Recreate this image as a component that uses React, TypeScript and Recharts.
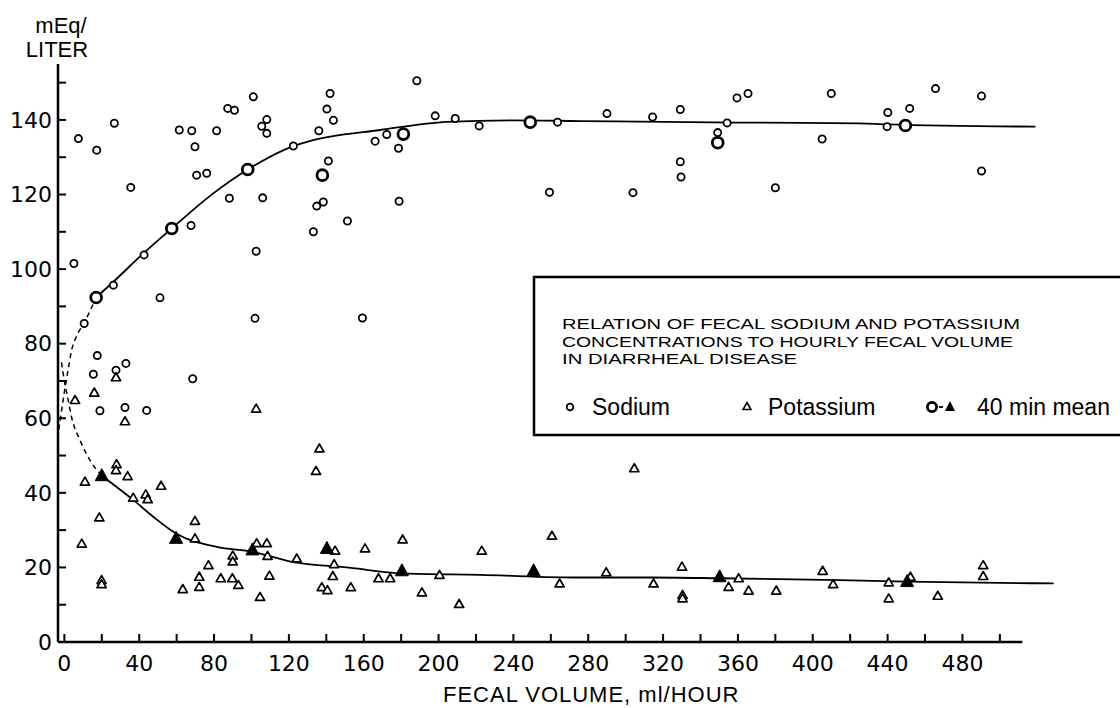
import React from "react";
import {
  ComposedChart,
  Scatter,
  Line,
  XAxis,
  YAxis,
  ReferenceLine,
} from "recharts";

// values: [fecal volume ml/hour, mEq/liter]
const sodium: [number, number][] = [
  [7.5, 135], [17.3, 131.9], [26.7, 139.1], [35.5, 121.9], [5.1, 101.5], [26.2, 95.7],
  [42.6, 103.8], [51.1, 92.3], [10.6, 85.4], [67.7, 111.7], [61.4, 137.3], [68.1, 137.1],
  [69.8, 132.8], [70.7, 125.2], [76.1, 125.7], [81.4, 137.1], [87.3, 143.1], [90.9, 142.6],
  [88.2, 119], [101, 146.2], [102.5, 104.8], [106, 119.1], [105.5, 138.3], [108.2, 140.1],
  [108.2, 136.4], [101.9, 86.8], [122.4, 133],
  [17.6, 76.8], [15.5, 71.8], [27.6, 72.9], [32.9, 74.7], [19, 62], [32.4, 62.9], [44, 62.1],
  [68.6, 70.6],
  [142, 147.1], [140.3, 142.9], [143.8, 139.9], [136, 137.1], [141.1, 129], [138.4, 118],
  [134.9, 116.9], [151.3, 112.9], [133.1, 110], [188.4, 150.5], [198.2, 141.1], [208.9, 140.4],
  [221.7, 138.4], [263.6, 139.4], [259.3, 120.6], [166.1, 134.3], [172.3, 136.1], [178.6, 132.4],
  [178.9, 118.2], [159.3, 86.9],
  [290, 141.7], [314.4, 140.8], [329.2, 142.8], [329.2, 128.8], [329.6, 124.7], [303.9, 120.5],
  [354.2, 139.2], [349.2, 136.6], [359.5, 145.9], [365.4, 147.1], [380, 121.8], [409.9, 147.1],
  [405, 134.9],
  [440.1, 142], [439.7, 138.2], [451.8, 143.1], [465.6, 148.4], [490.2, 146.4], [490.2, 126.3],
];

const sodiumMeans: [number, number][] = [
  [17, 92.4], [57.4, 110.9], [98, 126.7], [137.9, 125.2], [181.2, 136.2], [249, 139.4],
  [349.2, 133.9], [449.5, 138.5],
];

const potassium: [number, number][] = [
  [5.7, 64.9], [16, 66.9], [27.6, 71], [32.4, 59.2], [27.9, 47.7], [27.6, 46.1], [33.8, 44.5],
  [11, 43], [36.8, 38.7], [43.5, 39.6], [44.5, 38.3], [51.7, 41.9], [9.3, 26.4], [18.7, 33.4],
  [19.9, 16.6], [19.9, 15.5], [69.8, 32.5], [69.8, 27.8], [63.3, 14.2], [72.1, 17.5],
  [72.1, 14.8], [77, 20.6], [83.6, 17.1], [90, 23.2], [90, 21.6], [89.8, 17.1], [93, 15.3],
  [102.8, 26.5], [108.2, 26.5], [108.6, 23.1], [109.6, 17.8], [104.6, 12.1], [102.5, 62.6],
  [124.2, 22.4],
  [136.3, 51.9], [134.5, 45.9], [144.7, 24.5], [144.2, 20.9], [143.5, 17.7], [137.6, 14.7],
  [140.6, 13.9], [153.1, 14.7], [160.7, 25.1], [167.9, 17.1], [174.1, 17.1], [180.8, 27.5],
  [200.5, 18], [191.1, 13.3], [211, 10.2], [223.1, 24.5], [260.6, 28.5], [264.7, 15.7],
  [304.6, 46.6], [289.6, 18.7], [314.9, 15.7], [330.1, 20.2], [330.4, 12.6], [330.4, 11.7],
  [355, 14.8], [360.4, 17.1], [365.7, 13.8], [380.5, 13.8], [405.3, 19.1], [410.9, 15.5],
  [440.6, 16], [440.6, 11.7], [452.2, 17.5], [466.8, 12.4], [491.1, 20.6], [491.1, 17.7],
];

const potassiumMeans: [number, number][] = [
  [20, 44.6], [59.7, 27.8], [100.5, 24.7], [140.3, 25.1], [180.4, 19.1], [250.8, 19.1],
  [350.2, 17.5], [450.4, 16.2],
];

// hand-drawn curves
const sodiumCurve: [number, number][] = [
  [17, 92.4], [26.2, 96.6], [42.2, 104.2], [57.4, 110.9], [79.6, 120.3], [98, 126.7],
  [122.4, 133], [133, 134.6], [168.8, 137.3], [204.4, 139.5], [240, 139.9], [275.7, 139.7],
  [360, 139.3], [425, 139.1], [440, 138.8], [519, 138.2],
];
const sodiumDashed: [number, number][] = [
  [-3, 57], [-1.5, 62], [0, 67], [2, 73], [3.9, 78.3], [6.5, 82], [10.6, 85.6], [17, 92.4],
];
const potassiumCurve: [number, number][] = [
  [20, 44.6], [36.8, 38.1], [47.5, 33.6], [59.7, 29.1], [81.4, 25.5], [100.5, 24.2],
  [122.4, 21.4], [151, 20], [181.2, 18.4], [222, 18], [275.7, 17.3], [313, 17.3],
  [350.6, 17.1], [414.7, 16.6], [450.4, 16.2], [528.7, 15.7],
];
const potassiumDashed: [number, number][] = [
  [-1.5, 75], [0, 70], [2, 65], [4, 60], [8.3, 54.2], [14, 48.5], [20, 44.6],
];

const xTicks = [0, 20, 40, 60, 80, 100, 120, 140, 160, 180, 200, 220, 240, 260, 280, 300, 320, 340, 360, 380, 400, 420, 440, 460, 480, 500];
const yTicks = [0, 10, 20, 30, 40, 50, 60, 70, 80, 90, 100, 110, 120, 130, 140, 150];

const titleLines = [
  "RELATION OF FECAL SODIUM AND POTASSIUM",
  "CONCENTRATIONS TO HOURLY FECAL VOLUME",
  "IN DIARRHEAL DISEASE",
];
const titleWidths = [458, 451, 235];

const toPts = (arr: [number, number][]) => arr.map(([x, y]) => ({ x, y }));

const OpenCircle = (p: any) => (
  <circle cx={p.cx} cy={p.cy} r={3.6} fill="#fff" stroke="#000" strokeWidth={1.8} />
);
const MeanCircle = (p: any) => (
  <circle cx={p.cx} cy={p.cy} r={5.4} fill="#fff" stroke="#000" strokeWidth={2.8} />
);
const OpenTriangle = (p: any) => (
  <path
    d={`M${p.cx},${p.cy - 4.5}L${p.cx + 4.6},${p.cy + 3.5}L${p.cx - 4.6},${p.cy + 3.5}Z`}
    fill="#fff"
    stroke="#000"
    strokeWidth={1.7}
    strokeLinejoin="round"
  />
);
const MeanTriangle = (p: any) => (
  <path
    d={`M${p.cx},${p.cy - 7}L${p.cx + 6.5},${p.cy + 5}L${p.cx - 6.5},${p.cy + 5}Z`}
    fill="#000"
    stroke="#000"
    strokeWidth={1}
  />
);

const tickFont = { fontSize: 22, fill: "#000", fontFamily: "DejaVu Sans" };

export default function App() {
  return (
    <div style={{ position: "absolute", left: 0, top: 0, width: 1120, height: 708, background: "#fff", overflow: "hidden" }}>
      <ComposedChart
        width={1120}
        height={708}
        margin={{ top: 64, right: 64, left: 8, bottom: 26 }}
      >
        <XAxis
          type="number"
          dataKey="x"
          domain={[-3.4, 530]}
          ticks={xTicks}
          interval={0}
          allowDataOverflow
          tickFormatter={(v: number) => (v % 40 === 0 && v <= 480 ? String(v) : "")}
          tick={tickFont}
          axisLine={false}
          tickLine={{ stroke: "#000", strokeWidth: 2 }}
          tickSize={-8}
          tickMargin={21}
          height={40}
        />
        <YAxis
          type="number"
          dataKey="y"
          domain={[0, 155]}
          ticks={yTicks}
          interval={0}
          allowDataOverflow
          tickFormatter={(v: number) => (v % 20 === 0 ? String(v) : "")}
          tick={tickFont}
          axisLine={{ stroke: "#000", strokeWidth: 2.5 }}
          tickLine={{ stroke: "#000", strokeWidth: 2 }}
          tickSize={-8}
          tickMargin={14}
          width={50}
        />
        <ReferenceLine
          segment={[{ x: -3.4, y: 0 }, { x: 512, y: 0 }]}
          stroke="#000"
          strokeWidth={2.5}
        />
        <Line data={toPts(sodiumDashed)} dataKey="y" type="monotone" stroke="#000" strokeWidth={1.5} strokeDasharray="5 4" dot={false} isAnimationActive={false} />
        <Line data={toPts(potassiumDashed)} dataKey="y" type="monotone" stroke="#000" strokeWidth={1.5} strokeDasharray="5 4" dot={false} isAnimationActive={false} />
        <Line data={toPts(sodiumCurve)} dataKey="y" type="monotone" stroke="#000" strokeWidth={1.8} dot={false} isAnimationActive={false} />
        <Line data={toPts(potassiumCurve)} dataKey="y" type="monotone" stroke="#000" strokeWidth={1.8} dot={false} isAnimationActive={false} />
        <Scatter name="Sodium" data={toPts(sodium)} shape={OpenCircle} isAnimationActive={false} />
        <Scatter name="Potassium" data={toPts(potassium)} shape={OpenTriangle} isAnimationActive={false} />
        <Scatter name="Sodium mean" data={toPts(sodiumMeans)} shape={MeanCircle} isAnimationActive={false} />
        <Scatter name="Potassium mean" data={toPts(potassiumMeans)} shape={MeanTriangle} isAnimationActive={false} />
      </ComposedChart>

      <svg width={1120} height={708} style={{ position: "absolute", left: 0, top: 0, pointerEvents: "none" }}>
        {/* axis titles */}
        <text x={61} y={33} textAnchor="middle" fontFamily="Liberation Sans" fontSize={22}>mEq/</text>
        <text x={57} y={57} textAnchor="middle" fontFamily="Liberation Sans" fontSize={22}>LITER</text>
        <text x={443} y={702} fontFamily="Liberation Sans" fontSize={22} letterSpacing={1}>FECAL VOLUME, ml/HOUR</text>

        {/* legend box */}
        <rect x={534} y={277} width={620} height={158} fill="#fff" stroke="#000" strokeWidth={2.5} />
        {titleLines.map((t, i) => (
          <text
            key={t}
            x={562}
            y={329 + i * 17.5}
            fontFamily="Liberation Sans"
            fontSize={15.5}
            textLength={titleWidths[i]}
            lengthAdjust="spacingAndGlyphs"
          >
            {t}
          </text>
        ))}
        <circle cx={570} cy={407} r={3.3} fill="#fff" stroke="#000" strokeWidth={1.8} />
        <path d="M747,402.5L751,409.5L743,409.5Z" fill="#fff" stroke="#000" strokeWidth={1.6} />
        <circle cx={932} cy={407} r={4.6} fill="#fff" stroke="#000" strokeWidth={2.8} />
        <line x1={939} y1={407} x2={943} y2={407} stroke="#000" strokeWidth={1.8} />
        <path d="M950,401L955,411L945,411Z" fill="#000" />
        <g fontFamily="Liberation Sans" fontSize={23}>
          <text x={592} y={415}>Sodium</text>
          <text x={768} y={415}>Potassium</text>
          <text x={977} y={415}>40 min mean</text>
        </g>
      </svg>
    </div>
  );
}
